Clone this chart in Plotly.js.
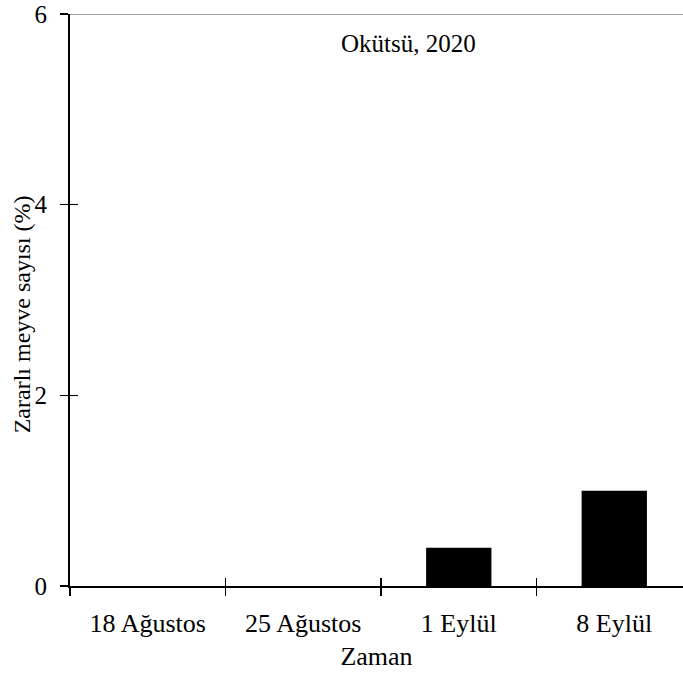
<!DOCTYPE html>
<html>
<head>
<meta charset="utf-8">
<script src="https://cdn.plot.ly/plotly-3.0.1.min.js"></script>
<style>
html,body{margin:0;padding:0;background:#fff;overflow:hidden;}
#chart{width:683px;height:674px;}
</style>
</head>
<body>
<div id="chart"></div>
<script>
var categories = ["18 Ağustos", "25 Ağustos", "1 Eylül", "8 Eylül"];
var values = [0, 0, 0.4, 1.0];
var yTicks = [0, 2, 4, 6];
var chartTitle = "Okütsü, 2020";
var xTitle = "Zaman";
var yTitle = "Zararlı meyve sayısı (%)";

var FAM = "Liberation Serif";
var tickFont = {family: FAM, size: 26, color: "#000"};
var yTickFont = {family: FAM, size: 25, color: "#000"};
var xTitleFont = {family: FAM, size: 26, color: "#000"};
var yTitleFont = {family: FAM, size: 24, color: "#000"};
var annFont = {family: FAM, size: 25, color: "#000"};

var trace = {
  type: "bar",
  x: categories,
  y: values,
  width: 0.42,
  marker: {color: "#000", line: {color: "#000", width: 0}},
  hoverinfo: "none"
};

var xr = [-0.5, 3.442];
var layout = {
  width: 683,
  height: 674,
  margin: {l: 70, r: 0, t: 14, b: 88, pad: 0},
  paper_bgcolor: "#fff",
  plot_bgcolor: "#fff",
  font: {family: FAM, size: 24, color: "#000"},
  showlegend: false,
  xaxis: {
    type: "category",
    range: xr,
    showline: true, linecolor: "#000", linewidth: 2,
    ticks: "outside", ticklen: 8, tickwidth: 1.5, tickcolor: "#000",
    tickson: "boundaries",
    showgrid: false, zeroline: false,
    tickfont: tickFont,
    ticklabelstandoff: 13,
    title: {text: xTitle, font: xTitleFont, standoff: 10}
  },
  xaxis2: {
    overlaying: "x",
    range: xr,
    showline: false,
    ticks: "inside", ticklen: 8, tickwidth: 1.5, tickcolor: "#000",
    tickmode: "array", tickvals: [-0.5, 0.5, 1.5, 2.5],
    showticklabels: false, showgrid: false, zeroline: false
  },
  yaxis: {
    range: [0, 6],
    showline: true, linecolor: "#000", linewidth: 2,
    ticks: "outside", ticklen: 8, tickwidth: 1.5, tickcolor: "#000",
    tickmode: "array", tickvals: yTicks, ticktext: yTicks.map(String),
    showgrid: false, zeroline: false,
    tickfont: yTickFont,
    ticklabelstandoff: 8
  },
  yaxis2: {
    overlaying: "y",
    range: [0, 6],
    showline: false,
    ticks: "inside", ticklen: 8, tickwidth: 1.5, tickcolor: "#000",
    tickmode: "array", tickvals: yTicks,
    showticklabels: false, showgrid: false, zeroline: false
  },
  shapes: [{
    type: "line", xref: "paper", yref: "y",
    x0: 0, x1: 1, y0: 6, y1: 6,
    line: {color: "#a0a0a0", width: 2}
  }],
  annotations: [{
    text: chartTitle, xref: "paper", yref: "paper",
    x: 0.552, y: 0.948, xanchor: "center", yanchor: "middle",
    showarrow: false, font: annFont
  }, {
    text: yTitle, xref: "paper", yref: "paper", textangle: -90,
    x: -0.0783, y: 0.475, xanchor: "center", yanchor: "middle",
    showarrow: false, font: yTitleFont
  }]
};

var dummy = {type: "scatter", x: [0], y: [0], xaxis: "x2", yaxis: "y2", mode: "none", hoverinfo: "none", showlegend: false};

Plotly.newPlot("chart", [trace, dummy], layout, {displayModeBar: false, staticPlot: true});
</script>
</body>
</html>
